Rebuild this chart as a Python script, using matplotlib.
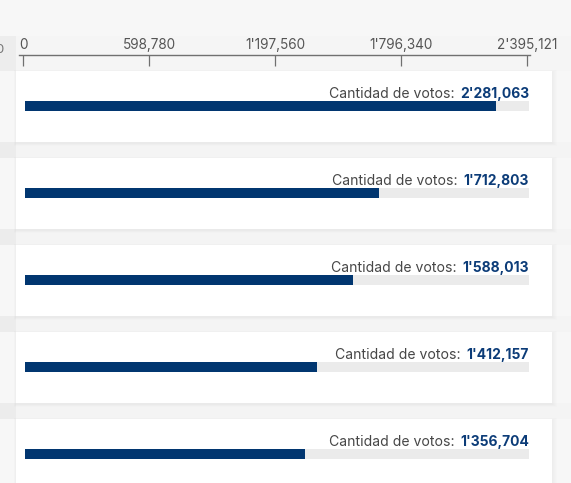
import matplotlib
matplotlib.use("Agg")
import matplotlib.pyplot as plt
from matplotlib.patches import Rectangle

# ---- data ----
votes = [2281063, 1712803, 1588013, 1412157, 1356704]
axis_ticks = [0, 598780, 1197560, 1796340, 2395121]
label_text = "Cantidad de votos:"
track_max = 2440000

def fmt(v):
    s = f"{v:,}"
    parts = s.split(",")
    if len(parts) >= 3:
        return parts[0] + "'" + ",".join(parts[1:])
    return s

W, H = 571, 483
FONT = ["Inter", "DejaVu Sans"]
plt.rcParams["font.family"] = FONT

fig = plt.figure(figsize=(W / 100, H / 100), dpi=100)
fig.patch.set_facecolor("#f7f7f7")

bg = fig.add_axes([0, 0, 1, 1], zorder=0)
bg.set_xlim(0, W)
bg.set_ylim(H, 0)
bg.axis("off")

card_x0, card_x1 = 16, 552
card_top0, card_step, card_h = 71, 87, 71

# header band
bg.add_patch(Rectangle((0, 36), W, 35, color="#f5f5f5", lw=0))
bg.add_patch(Rectangle((0, 36), 16, 35, color="#ededed", lw=0))

# gaps between cards
for i in range(1, len(votes)):
    top = card_top0 + card_step * i
    gtop = top - (card_step - card_h)
    bg.add_patch(Rectangle((0, gtop), W, card_step - card_h, color="#f4f4f4", lw=0))
    bg.add_patch(Rectangle((0, gtop), 16, card_step - card_h, color="#ececec", lw=0))

# cards with soft shadow
for i in range(len(votes)):
    top = card_top0 + card_step * i
    for k in range(1, 6):
        bg.add_patch(Rectangle((card_x0 - k * 0.5, top - k * 0.4 + 1), card_x1 - card_x0 + k * 1.4,
                               card_h + k * 0.9, color="black", alpha=0.007, lw=0))
    bg.add_patch(Rectangle((card_x0, top), card_x1 - card_x0, card_h, color="white", lw=0))

# clipped glyph at left edge
bg.text(-5, 50, "0", fontsize=9.5, color="#777777", va="center", ha="left")

# ---- top axis ----
x0_px, x1_px = 23.3, 527.3
ppu = (x1_px - x0_px) / axis_ticks[-1]
pad_l, pad_r = 4.3, 2.7
line_y = 55
tax = fig.add_axes([(x0_px - pad_l) / W, (H - line_y - 12) / H,
                    (x1_px - x0_px + pad_l + pad_r) / W, 12 / H], zorder=3)
tax.set_xlim(-pad_l / ppu, axis_ticks[-1] + pad_r / ppu)
tax.patch.set_alpha(0)
for s in ["bottom", "left", "right"]:
    tax.spines[s].set_visible(False)
tax.spines["top"].set_color("#707070")
tax.spines["top"].set_linewidth(1.0)
tax.set_yticks([])
tax.xaxis.set_ticks_position("top")
tax.set_xticks(axis_ticks)
tax.set_xticklabels([fmt(t) for t in axis_ticks])
tax.tick_params(axis="x", direction="in", length=8.2, width=0.9, color="#707070",
                labelsize=9.8, labelcolor="#555555", pad=2.2)

# ---- bars ----
bar_x0, bar_x1 = 25, 529
bar_top0, bar_h = 101, 10
for i, v in enumerate(votes):
    top = bar_top0 + card_step * i
    ax = fig.add_axes([bar_x0 / W, (H - top - bar_h) / H, (bar_x1 - bar_x0) / W, bar_h / H], zorder=4)
    ax.set_xlim(0, track_max)
    ax.set_ylim(-0.5, 0.5)
    ax.axis("off")
    ax.barh([0], [track_max], height=1.0, color="#ebebeb", lw=0)
    ax.barh([0], [v], height=1.0, color="#013670", lw=0)
    vt = ax.text(1.0, 1.3, fmt(v), transform=ax.transAxes, ha="right", va="baseline",
                 fontsize=10.0, fontweight="bold", color="#0c3c78")
    ax.annotate(label_text, xy=(0, 0), xycoords=vt, xytext=(-4, 0), textcoords="offset points",
                ha="right", va="bottom", fontsize=10.1, color="#474747")

fig.savefig("out.png", dpi=100, facecolor=fig.get_facecolor())
